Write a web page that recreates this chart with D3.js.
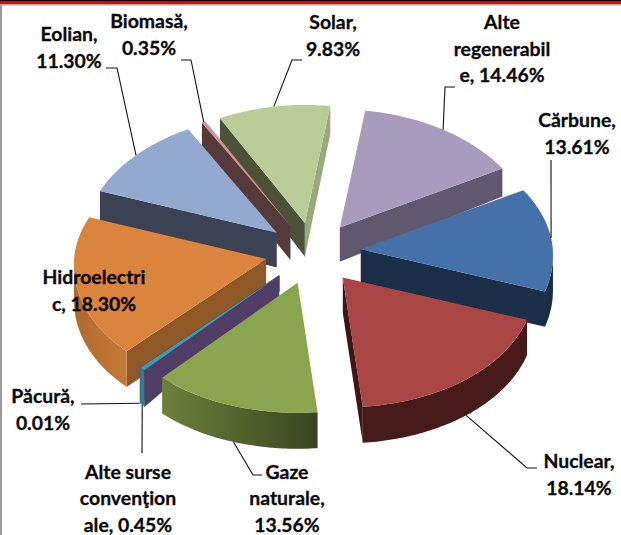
<!DOCTYPE html>
<html>
<head>
<meta charset="utf-8">
<script src="https://cdn.jsdelivr.net/npm/d3@7"></script>
<style>
html,body{margin:0;padding:0;background:#fff;overflow:hidden}
svg{display:block}
text{font-family:Lato,"Open Sans",sans-serif;font-weight:700;font-size:19.4px;fill:#0a0a0a;stroke:#0a0a0a;stroke-width:.3px;text-anchor:middle}
</style>
</head>
<body>
<svg id="chart" width="621" height="535"></svg>
<script>
// ---- data ----
const categories = ["Cărbune","Nuclear","Gaze naturale","Alte surse convenţion ale","Păcură","Hidroelectric","Eolian","Biomasă","Solar","Alte regenerabile"];
const values = [13.61,18.14,13.56,0.45,0.01,18.30,11.30,0.35,9.83,14.46];
const labelLines = [["Cărbune,",""],["Nuclear,",""],["Gaze","naturale,",""],["Alte surse","convenţion","ale, "],["Păcură,",""],["Hidroelectri","c, "],["Eolian,",""],["Biomasă,",""],["Solar,",""],["Alte","regenerabil","e, "]];

// ---- styles ----
const topColors  = ["#4472a8","#a94543","#89a54e","#4198af","#4198af","#db843d","#93a9cf","#d19392","#b9cd96","#a99bbd"];
const startWalls = ["#1b2e47","#451a18","#5f7535","#4f3d68","#4f3d68","#8f5926","#3b4254","#563a3a","#4b5238","#615870"];
const endWalls   = ["#1b2e47","#3e1715","#5f7535","#4f3d68","#4f3d68","#8f5926","#3b4254","#563a3a","#98a97e","#615870"];
const rimLeft    = ["#1b2e47","#451a18","#6b8239","#357f92","#357f92","#b06a2e","#3b4254","#563a3a","#4b5238","#615870"];
const rimRight   = ["#1b2e47","#451a18","#38441f","#357f92","#357f92","#c47935","#3b4254","#563a3a","#4b5238","#615870"];

// ---- layout ----
const W = 621, H = 535, cx = 313, cy = 252;
const rx = 192, ryTop = 118, ryBottom = 130, explode = 0.25, perspective = 0.045;
const rad = Math.PI / 180;
const labelCentres = [[577,127],[579,468],[287,478.5],[128,478.5],[43,403],[94,284],[69,41],[149,28],[333,29],[502,29]];
const lineGap = 26.6;
const depthAt = d3.scaleLinear().domain([170,235,400]).range([28,35,36]).clamp(true);
// leader: label-side points, then whether it ends on the lower edge of the rim
const leaders = [
  {i:0, pts:[[551,160]], low:false},
  {i:1, pts:[[537,468],[527,468]], low:true},
  {i:2, pts:[[262,475],[253,475]], low:true},
  {i:3, pts:[[142,453]], low:true},
  {i:4, pts:[[81,404]], low:true},
  {i:6, pts:[[106,68],[117,68]], low:false},
  {i:7, pts:[[181,60],[191,60]], low:false},
  {i:8, pts:[[302,60],[292,60]], low:false},
  {i:9, pts:[[455,87],[445,87]], low:false}
];

const svg = d3.select("#chart");
const defs = svg.append("defs");

// frame
svg.append("rect").attr("width",W).attr("height",H).attr("fill","#fff");
svg.append("rect").attr("x",0).attr("y",0).attr("width",2).attr("height",H).attr("fill","#9a9a9a");
svg.append("rect").attr("x",0).attr("y",3).attr("width",W).attr("height",2.5).attr("fill","#a8a8a8");
svg.append("rect").attr("x",0).attr("y",0).attr("width",W).attr("height",1).attr("fill","#000");
svg.append("rect").attr("x",0).attr("y",1).attr("width",W).attr("height",3).attr("fill","#f00000");

const scaleX = d3.scaleLinear().domain([-1,1]).range([-rx,rx]);
const scaleY = d3.scaleLinear().domain([-1,0,1]).range([-ryTop,0,ryBottom]);

const arcs = d3.pie().sort(null).value(d=>d)
  .startAngle(60*rad).endAngle(420*rad)(values);

function offsetOf(a){
  const m = (a.startAngle+a.endAngle)/2;
  return [scaleX(explode*Math.sin(m)), scaleY(-explode*Math.cos(m))];
}
function rimPoint(a,t){
  const o = offsetOf(a), v = -Math.cos(t);
  return [cx+o[0]+scaleX(Math.sin(t))*(1+perspective*v), cy+o[1]+scaleY(v)];
}
function apexOf(a){
  const o = offsetOf(a);
  return [cx+o[0], cy+o[1]];
}
const line = d3.line();

const slices = arcs.map((a,i)=>({a,i,apex:apexOf(a)}))
  .sort((p,q)=>d3.ascending(p.apex[1],q.apex[1]));

const gPie = svg.append("g");
slices.forEach(({a,i,apex})=>{
  const g = gPie.append("g").attr("class","slice");
  const n = Math.max(2,Math.ceil((a.endAngle-a.startAngle)/rad));
  const ts = d3.range(n+1).map(k=>a.startAngle+(a.endAngle-a.startAngle)*k/n);
  const rim = ts.map(t=>rimPoint(a,t));
  const wall = (p,q,fill,dp,dq)=>{
    g.append("path").attr("d",line([p,q,[q[0],q[1]+(dq??depthAt(q[1]))],[p[0],p[1]+(dp??depthAt(p[1]))]])+"Z").attr("fill",fill);
  };
  const pStart = rim[0], pEnd = rim[rim.length-1];
  // start wall faces the viewer when walking apex -> start moves leftward
  if(pStart[0]<apex[0]) wall(apex,pStart,startWalls[i], i===3?16:undefined, i===3?37:undefined);
  if(apex[0]<pEnd[0])   wall(pEnd,apex,endWalls[i]);
  // rim: the part where x decreases as the angle grows
  const vis = rim.filter((p,k)=>{
    const prev = rim[k-1], next = rim[k+1];
    return (next && next[0]<p[0]) || (prev && p[0]<prev[0]);
  });
  if(vis.length>1){
    const id = "rim"+i;
    const x0 = d3.min(vis,d=>d[0]), x1 = d3.max(vis,d=>d[0]);
    const gr = defs.append("linearGradient").attr("id",id).attr("gradientUnits","userSpaceOnUse")
      .attr("x1",x0).attr("x2",x1).attr("y1",0).attr("y2",0);
    gr.append("stop").attr("offset",0).attr("stop-color",rimLeft[i]);
    gr.append("stop").attr("offset",1).attr("stop-color",rimRight[i]);
    const low = vis.map(p=>[p[0],p[1]+depthAt(p[1])]).reverse();
    g.append("path").attr("d",line(vis.concat(low))+"Z").attr("fill",`url(#${id})`);
  }
  // top face
  g.append("path").attr("d",line([apex].concat(rim))+"Z").attr("fill",topColors[i]);
});

// leaders
const gLead = svg.append("g").attr("fill","none").attr("stroke","#111").attr("stroke-width",1.1);
leaders.forEach(l=>{
  const a = arcs[l.i];
  const e = rimPoint(a,(a.startAngle+a.endAngle)/2);
  const end = [e[0], e[1]+(l.low?depthAt(e[1]):0)];
  gLead.append("path").attr("d",line(l.pts.concat([end])));
});

// labels
const fmt = d3.format(".2f");
const gText = svg.append("g");
labelLines.forEach((ls,i)=>{
  const [x,y] = labelCentres[i];
  ls.forEach((s,k)=>{
    const last = k===ls.length-1;
    gText.append("text").attr("x",x).attr("y",y+k*lineGap)
      .text(last ? s+fmt(values[i])+"%" : s);
  });
});
</script>
</body>
</html>
